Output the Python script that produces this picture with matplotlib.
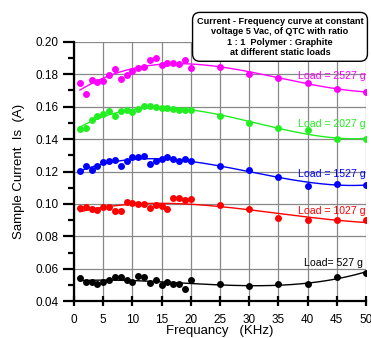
import matplotlib
matplotlib.use("Agg")
import matplotlib.pyplot as plt
import numpy as np
from matplotlib.ticker import MultipleLocator, FormatStrFormatter

plt.rcParams['font.family'] = ['Liberation Sans', 'DejaVu Sans']

# --- data ---
freq = [1, 2, 3, 4, 5, 6, 7, 8, 9, 10, 11, 12, 13, 14, 15, 16, 17, 18, 19, 20,
        25, 30, 35, 40, 45, 50]

load_2527 = [0.1746, 0.1676, 0.1767, 0.1754, 0.1759, 0.1794, 0.1829, 0.1771, 0.1794, 0.1819,
             0.1841, 0.1846, 0.1885, 0.1902, 0.1854, 0.1870, 0.1870, 0.1864, 0.1885, 0.1835,
             0.1846, 0.1798, 0.1777, 0.1746, 0.1711, 0.1690]
load_2027 = [0.1462, 0.1466, 0.1516, 0.1544, 0.1556, 0.1572, 0.1540, 0.1572, 0.1576, 0.1564,
             0.1584, 0.1604, 0.1604, 0.1600, 0.1592, 0.1594, 0.1584, 0.1582, 0.1578, 0.1578,
             0.1543, 0.1501, 0.1467, 0.1455, 0.1398, 0.1400]
load_1527 = [0.1202, 0.1231, 0.1210, 0.1235, 0.1256, 0.1262, 0.1270, 0.1235, 0.1266, 0.1287,
             0.1291, 0.1297, 0.1249, 0.1264, 0.1274, 0.1287, 0.1276, 0.1266, 0.1276, 0.1262,
             0.1231, 0.1210, 0.1169, 0.1113, 0.1124, 0.1118]
load_1027 = [0.0975, 0.0979, 0.0971, 0.0961, 0.0979, 0.0979, 0.0957, 0.0957, 0.1012, 0.1006,
             0.1002, 0.1000, 0.0973, 0.0994, 0.0986, 0.0971, 0.1035, 0.1035, 0.1027, 0.1031,
             0.0992, 0.0971, 0.0913, 0.0901, 0.0899, 0.0899]
load_527 = [0.0544, 0.0521, 0.0517, 0.0506, 0.0521, 0.0531, 0.0550, 0.0550, 0.0529, 0.0517,
            0.0556, 0.0550, 0.0510, 0.0531, 0.0500, 0.0521, 0.0504, 0.0504, 0.0475, 0.0533,
            0.0506, 0.0494, 0.0506, 0.0506, 0.0550, 0.0575]

series = [load_2527, load_2027, load_1527, load_1027, load_527]
colors = ['#ff00ff', '#22ee22', '#0000ff', '#ff0000', '#000000']
labels = ['Load = 2527 g', 'Load = 2027 g', 'Load = 1527 g', 'Load = 1027 g', 'Load= 527 g']
label_y = [0.1786, 0.1494, 0.1185, 0.0954, 0.0634]
label_x = [50, 50, 50, 50, 49.4]

title = ("Current - Frequency curve at constant\n"
         "voltage 5 Vac, of QTC with ratio\n"
         "1 : 1  Polymer : Graphite\n"
         "at different static loads")

fig = plt.figure(figsize=(3.71, 3.38), dpi=100)
ax = fig.add_axes([0.1995, 0.1086, 0.787, 0.768])

x = np.array(freq)
xs = np.linspace(1, 50, 200)
for ys, c, lab, ly, lx in zip(series, colors, labels, label_y, label_x):
    ys = np.array(ys)
    coef = np.polyfit(x, ys, 3)
    ax.plot(xs, np.polyval(coef, xs), color=c, lw=1, zorder=3)
    ax.plot(x, ys, 'o', color=c, ms=5, mec='none', zorder=4)
    ax.text(lx, ly, lab, color=c, fontsize=7.6, ha='right', va='center', zorder=5)

ax.set_xlim(0, 50)
ax.set_ylim(0.04, 0.20)
ax.xaxis.set_major_locator(MultipleLocator(5))
ax.yaxis.set_major_locator(MultipleLocator(0.02))
ax.yaxis.set_minor_locator(MultipleLocator(0.01))
ax.yaxis.set_major_formatter(FormatStrFormatter('%.2f'))
ax.grid(True, color='#888888', lw=0.9)
ax.set_axisbelow(True)

for s in ['top', 'right']:
    ax.spines[s].set_visible(False)
for s in ['left', 'bottom']:
    ax.spines[s].set_linewidth(1.6)

ax.tick_params(axis='x', direction='inout', length=7, width=1.6, labelsize=8.5, pad=6)
ax.tick_params(axis='y', which='major', direction='out', length=8, width=1.6, labelsize=8.5, pad=3)
ax.tick_params(axis='y', which='minor', direction='out', length=4, width=1.6)

ax.set_xlabel('Frequancy   (KHz)', fontsize=9.5, labelpad=-1)
ax.set_ylabel('Sample Current  Is  (A)', fontsize=9.5, labelpad=8)

fig.text(0.7547, 0.891, title, fontsize=6.6, fontweight='bold', ha='center', va='center',
         linespacing=1.22, zorder=10,
         bbox=dict(boxstyle='round,pad=0.45,rounding_size=0.8', fc='white', ec='black', lw=1))

fig.savefig('out.png', dpi=100)
